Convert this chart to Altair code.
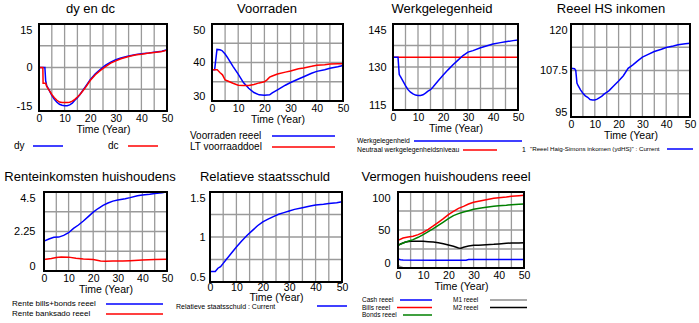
import altair as alt
import pandas as pd

FONT = "Liberation Sans"
BLUE, RED, GREEN, BLACK, GRAY = "#0000ff", "#ff0000", "#008000", "#000000", "#8c8c8c"
GRID = "#9a9a9a"
W, H = 699, 323

# ---------------- data ----------------
# dy en dc
dy_t = [0, 2.3, 2.6, 3, 4, 5, 6, 7, 8, 9, 10, 11, 12, 13, 14, 15, 16, 18, 20, 22, 24, 26, 28, 30, 32, 35, 38, 40, 43, 45, 48, 50]
dy_v = [0, 0, -4.5, -6.2, -7.9, -9.6, -11, -12, -12.7, -13, -13.2, -13.2, -12.9, -12.3, -11.3, -10.4, -9.3, -6.8, -4.2, -2.2, -0.6, 0.8, 1.8, 2.7, 3.3, 4.0, 4.5, 4.7, 5.0, 5.3, 5.6, 6.1]
dc_t = [0, 1.5, 1.6, 2.6, 3, 4, 5, 6, 7, 8, 9, 10, 11, 12, 13, 14, 15, 16, 18, 20, 22, 24, 26, 28, 30, 32, 35, 38, 40, 43, 45, 48, 50]
dc_v = [0, 0, -5.4, -5.4, -6.5, -7.9, -9.3, -10.4, -11.3, -11.9, -12.1, -12.1, -12.1, -12.0, -11.6, -11.0, -10.2, -9.3, -7.1, -4.5, -2.5, -1.0, 0.3, 1.5, 2.3, 3.0, 3.8, 4.4, 4.6, 5.0, 5.2, 5.5, 6.0]

# Voorraden
vr_t = [0, 1, 1.9, 3, 3.8, 5, 6, 8, 10, 12, 14, 16, 18, 20, 22, 23, 25, 28, 30, 33, 35, 38, 40, 43, 45, 48, 50]
vr_v = [38.1, 38.1, 43.4, 43.3, 43.1, 42.2, 41.2, 39.0, 37.0, 34.8, 33.3, 32.2, 31.6, 31.5, 31.6, 32.1, 32.9, 34.1, 34.8, 35.7, 36.3, 37.2, 37.7, 38.1, 38.5, 38.9, 39.2]
lt_t = [0, 1, 2, 3, 4, 5, 6, 8, 10, 12, 14, 16, 18, 20, 21, 22, 23, 25, 28, 30, 33, 35, 38, 40, 43, 45, 48, 50]
lt_v = [38.1, 38.1, 38.1, 37.4, 36.8, 35.5, 35.2, 34.6, 34.1, 34.0, 34.0, 34.3, 34.7, 35.0, 35.5, 36.2, 36.5, 37.0, 37.5, 37.8, 38.4, 38.6, 39.0, 39.3, 39.4, 39.6, 39.7, 39.7]

# Werkgelegenheid
wg_t = [0, 2, 2.5, 3, 4, 5, 6, 7, 8, 9, 10, 11, 12, 13, 14, 15, 16, 18, 20, 22, 24, 26, 28, 30, 32, 35, 38, 40, 43, 45, 48, 50]
wg_v = [133.4, 133.4, 127.4, 126.6, 125.1, 123.5, 122.1, 121.2, 120.6, 120.2, 120.1, 120.1, 120.3, 120.9, 121.6, 122.1, 123.0, 125.1, 127.1, 129.0, 130.8, 132.4, 134.0, 135.2, 135.7, 136.7, 137.5, 138.0, 138.5, 138.8, 139.2, 139.4]
nw_t = [0, 50]
nw_v = [133.4, 133.4]

# Reeel HS inkomen
hs_t = [0, 1.5, 2, 2.5, 3, 4, 5, 6, 7, 8, 9, 10, 11, 12, 13, 14, 15, 16, 18, 20, 22, 24, 26, 28, 30, 32, 35, 38, 40, 43, 45, 48, 50]
hs_v = [108.1, 108.0, 107.5, 104.1, 103.4, 102.3, 101.4, 100.7, 100.3, 99.7, 99.6, 99.6, 99.8, 100.2, 100.6, 101.2, 101.6, 102.1, 103.4, 104.7, 106.1, 108.1, 109.0, 110.1, 111.1, 111.7, 112.6, 113.2, 113.7, 114.1, 114.4, 114.7, 114.8]

# Renteinkomsten huishoudens
rb_t = [0, 2, 4, 6, 8, 10, 12, 14, 16, 18, 20, 22, 24, 26, 28, 30, 33, 35, 38, 40, 43, 45, 48, 50]
rb_v = [1.70, 1.82, 1.92, 1.93, 2.03, 2.18, 2.43, 2.62, 2.85, 3.10, 3.35, 3.56, 3.74, 3.87, 3.98, 4.04, 4.12, 4.18, 4.29, 4.33, 4.37, 4.41, 4.46, 4.52]
rs_t = [0, 3, 5, 7, 10, 13, 16, 20, 23, 25, 28, 32, 35, 40, 45, 50]
rs_v = [0.65, 0.71, 0.77, 0.80, 0.79, 0.73, 0.69, 0.65, 0.57, 0.56, 0.57, 0.57, 0.59, 0.63, 0.65, 0.67]

# Relatieve staatsschuld
ss_t = [0, 2, 3, 4, 5, 6, 8, 10, 12, 14, 16, 18, 20, 22, 24, 26, 28, 30, 32, 35, 38, 40, 43, 45, 48, 50]
ss_v = [0.616, 0.616, 0.653, 0.671, 0.707, 0.744, 0.816, 0.889, 0.955, 1.016, 1.071, 1.125, 1.169, 1.198, 1.227, 1.253, 1.271, 1.289, 1.307, 1.325, 1.344, 1.355, 1.365, 1.373, 1.380, 1.391]

# Vermogen huishoudens reeel
bb_t = [0, 2, 4, 6, 8, 10, 12, 14, 16, 18, 20, 22, 24, 26, 28, 30, 33, 35, 38, 40, 43, 45, 48, 50]
bills_v = [36.4, 39.5, 40.8, 41.7, 43.9, 46.9, 50.9, 55.3, 60.1, 64.9, 70.2, 74.6, 78.5, 81.1, 84.2, 86.4, 88.6, 89.9, 91.7, 92.5, 93.4, 94.3, 95.2, 95.6]
bonds_v = [29.8, 32.9, 35.1, 37.3, 40.4, 43.9, 47.8, 51.8, 56.1, 60.5, 64.9, 68.9, 71.5, 73.7, 75.4, 77.2, 78.9, 79.8, 81.1, 82.0, 82.5, 83.3, 83.8, 84.2]
m2_t = [0, 1, 3, 5, 8, 10, 12, 14, 16, 18, 20, 22, 24, 25, 26, 28, 30, 32, 35, 38, 40, 43, 45, 48, 50]
m2_v = [29.8, 31.6, 34.2, 35.1, 35.1, 35.1, 34.6, 34.2, 33.3, 32.0, 30.3, 28.5, 26.3, 25.9, 27.2, 28.9, 29.8, 29.8, 30.7, 31.1, 31.6, 32.5, 32.9, 32.9, 33.3]
cash_t = [0, 1, 2, 14, 27, 28, 50]
cash_v = [11.8, 11.0, 10.5, 10.3, 10.3, 11.2, 11.2]
m1_t = [0, 1, 2, 3, 50]
m1_v = [3.5, 1.8, 0.3, 0.0, 0.0]

# x grid / tick values
x_ticks = list(range(0, 51, 5))

# ---------------- helpers ----------------
ONE = pd.DataFrame({"k": [0]})


def frame(t, v):
    return pd.DataFrame({"t": t, "v": v})


def grid_frame(lo, hi, y_ticks):
    rows = []
    for i, g in enumerate(x_ticks):
        rows.append({"t": g, "v": lo, "k": f"x{i}"})
        rows.append({"t": g, "v": hi, "k": f"x{i}"})
    for i, g in enumerate(y_ticks):
        rows.append({"t": 0, "v": g, "k": f"y{i}"})
        rows.append({"t": 50, "v": g, "k": f"y{i}"})
    return pd.DataFrame(rows)


def panel(box, ydom, lines, ypad=7, xlpad=2, xtpad=1):
    L, R, T, B = box
    lo, hi = ydom
    q = (hi - lo) / 4.0
    mid = (lo + hi) / 2.0
    y_ticks = [lo, lo + q, mid, hi - q, hi]
    xs = alt.Scale(domain=[0, 50], range=[L, R], nice=False, zero=False)
    ys = alt.Scale(domain=[lo, hi], range=[B, T], nice=False, zero=False)
    xa = alt.Axis(orient="bottom", offset=B - H, values=x_ticks,
                  labelExpr="datum.value % 10 == 0 ? '' + datum.value : ''",
                  grid=False, ticks=False, domain=False,
                  labelFont=FONT, labelFontSize=10.5, labelColor="black", labelPadding=xlpad,
                  labelFlush=False, labelOverlap=False,
                  title="Time (Year)", titleFont=FONT, titleFontSize=10.5,
                  titleFontWeight="normal", titleColor="black", titlePadding=xtpad)
    expr = f"(datum.value == {lo} || datum.value == {mid} || datum.value == {hi}) ? '' + datum.value : ''"
    ya = alt.Axis(orient="left", offset=-L, values=y_ticks, labelExpr=expr, grid=False,
                  ticks=False, domain=False, labelFont=FONT, labelFontSize=11,
                  labelColor="black", labelPadding=ypad, labelFlush=True, labelOverlap=False,
                  title=None)
    layers = []
    # grid lines drawn as two-point lines through the panel's scales
    layers.append(alt.Chart(grid_frame(lo, hi, y_ticks)).mark_line(
        stroke=GRID, strokeWidth=1.3, strokeOpacity=1).encode(
        x=alt.X("t:Q", scale=xs, axis=xa), y=alt.Y("v:Q", scale=ys, axis=ya),
        detail="k:N"))
    for df, color in lines:
        layers.append(alt.Chart(df).mark_line(color=color, strokeWidth=1.5).encode(
            x=alt.X("t:Q", scale=xs, axis=xa), y=alt.Y("v:Q", scale=ys, axis=ya)))
    # frame
    layers.append(alt.Chart(ONE).mark_rect(fill="transparent", stroke="black", strokeWidth=2).encode(
        x=alt.XDatum(0, scale=xs, axis=xa), x2=alt.X2Datum(50),
        y=alt.YDatum(lo, scale=ys, axis=ya), y2=alt.Y2Datum(hi)))
    return alt.layer(*layers)


def txt(s, x, y, size, align="left"):
    return alt.Chart(ONE).mark_text(text=s, font=FONT, fontSize=size, align=align,
                                    baseline="middle", color="black").encode(
        x=alt.value(x), y=alt.value(y))


def title_txt(s, x, y):
    return alt.Chart(ONE).mark_text(text=s, font=FONT, fontSize=13, align="center",
                                    baseline="alphabetic", color="black").encode(
        x=alt.value(x), y=alt.value(y))


def swatch(color, x1, x2, y, w=1.5):
    return alt.Chart(ONE).mark_rule(color=color, strokeWidth=w).encode(
        x=alt.value(x1), x2=alt.value(x2), y=alt.value(y))


# ---------------- panels (L, R, T, B in pixels) ----------------
p1 = panel((39, 167, 24, 111), (-15, 15), [(frame(dy_t, dy_v), BLUE), (frame(dc_t, dc_v), RED)])
p2 = panel((212, 343, 24, 101), (30, 50), [(frame(vr_t, vr_v), BLUE), (frame(lt_t, lt_v), RED)])
p3 = panel((393, 518, 24, 110), (115, 145), [(frame(nw_t, nw_v), RED), (frame(wg_t, wg_v), BLUE)])
p4 = panel((571, 690, 24, 117), (95, 120), [(frame(hs_t, hs_v), BLUE)], ypad=4)
p5 = panel((44, 167, 192, 271), (0, 4.5), [(frame(rb_t, rb_v), BLUE), (frame(rs_t, rs_v), RED)], ypad=9)
p6 = panel((210, 342, 192, 282), (0.5, 1.5), [(frame(ss_t, ss_v), BLUE)], ypad=5, xlpad=0, xtpad=0)
p7 = panel((398, 524, 192, 268), (0, 100),
           [(frame(m1_t, m1_v), GRAY), (frame(cash_t, cash_v), BLUE),
            (frame(m2_t, m2_v), BLACK), (frame(bb_t, bonds_v), GREEN),
            (frame(bb_t, bills_v), RED)], ypad=8)

decor = [
    title_txt("dy en dc", 90.5, 13), title_txt("Voorraden", 267, 13),
    title_txt("Werkgelegenheid", 442, 13), title_txt("Reeel HS inkomen", 611, 13),
    title_txt("Renteinkomsten huishoudens", 90, 181), title_txt("Relatieve staatsschuld", 265, 181),
    title_txt("Vermogen huishoudens reeel", 446, 181),
    # legends
    txt("dy", 14, 146, 10), swatch(BLUE, 33, 63, 146),
    txt("dc", 108, 146, 10), swatch(RED, 128, 158, 146),
    txt("Voorraden reeel", 190, 136, 10), swatch(BLUE, 272, 335, 136),
    txt("LT voorraaddoel", 190, 147, 10), swatch(RED, 272, 335, 147),
    txt("Werkgelegenheid", 357, 141, 6.8), swatch(BLUE, 414, 522, 141),
    txt("Neutraal werkgelegenheidsniveau", 357, 150, 6.8), swatch(RED, 463, 497, 150),
    txt("1", 522, 150, 6.8),
    txt("\"Reeel Haig-Simons inkomen (ydHS)\" : Current", 530, 149, 6.2), swatch(BLUE, 667, 693, 149),
    txt("Rente bills+bonds reeel", 12, 304, 8), swatch(BLUE, 106, 163, 304),
    txt("Rente banksado reeel", 12, 314, 8), swatch(RED, 106, 163, 314),
    txt("Relatieve staatsschuld : Current", 176, 307, 7), swatch(BLUE, 317, 347, 306),
    txt("Cash reeel", 362, 300, 6.5), swatch(BLUE, 400, 432, 300),
    txt("Bills reeel", 362, 307.5, 6.5), swatch(RED, 397, 432, 307.5),
    txt("Bonds reeel", 362, 315, 6.5), swatch(GREEN, 403, 432, 315),
    txt("M1 reeel", 453, 300, 6.5), swatch(GRAY, 490, 527, 300),
    txt("M2 reeel", 453, 307.5, 6.5), swatch(BLACK, 490, 527, 307.5),
]

chart = alt.layer(p1, p2, p3, p4, p5, p6, p7, *decor).resolve_scale(
    x="independent", y="independent").properties(
    width=W, height=H, padding=0, background="white",
    autosize=alt.AutoSizeParams(type="none")).configure_view(strokeWidth=0)

chart.save("out.html", embed_options={"renderer": "svg", "actions": False})
